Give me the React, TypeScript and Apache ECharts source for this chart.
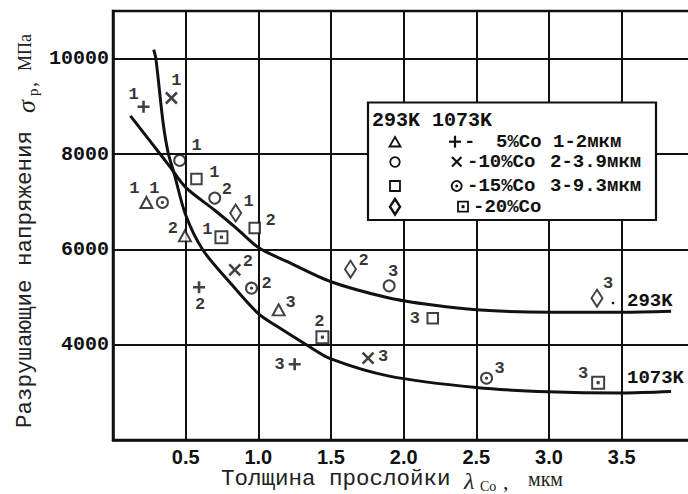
import React, { useEffect, useRef } from 'react';
import * as echarts from 'echarts';

// ---------------- data ----------------
const xTickLabels = ['0.5', '1.0', '1.5', '2.0', '2.5', '3.0', '3.5'];
const yTickLabels = ['4000', '6000', '8000', '10000'];

// [layer thickness (мкм), fracture stress (МПа), particle-size group]
const triangle293K = [[0.23, 6983, '1'], [0.495, 6283, '2'], [1.14, 4730, '3']];
const circle293K = [[0.459, 7865, '1'], [0.7, 7075, '2'], [1.9, 5234, '3']];
const square293K = [[0.574, 7474, '1'], [0.975, 6445, '2'], [2.2, 4556, '3']];
const diamond293K = [[0.844, 6760, '1'], [1.634, 5584, '2'], [3.33, 4975, '3']];
const plus1073K = [[0.21, 8992, '1'], [0.592, 5206, '2'], [1.25, 3590, '3']];
const cross1073K = [[0.402, 9175, '1'], [0.838, 5570, '2'], [1.755, 3716, '3']];
const dotCircle1073K = [[0.34, 6983, '1'], [0.953, 5185, '2'], [2.57, 3296, '3']];
const dotSquare1073K = [[0.746, 6255, '1'], [1.441, 4157, '2'], [3.338, 3203, '3']];

const curve293K = [
  [0.12, 8800], [0.25, 8290], [0.39, 7740], [0.5, 7300], [0.7, 6820], [0.85, 6440],
  [1.0, 6040], [1.2, 5740], [1.5, 5320], [1.9, 4980], [2.2, 4830], [2.5, 4730],
  [3.0, 4680], [3.5, 4680], [3.84, 4700],
];
const curve1073K = [
  [0.28, 10190], [0.295, 10000], [0.345, 8650], [0.38, 8020], [0.42, 7600], [0.5, 6720],
  [0.62, 5980], [0.82, 5250], [1.0, 4650], [1.12, 4400], [1.33, 4000], [1.5, 3700],
  [1.9, 3340], [2.5, 3100], [3.0, 3010], [3.5, 2985], [3.84, 3015],
];

const curveNames = ['293K', '1073K'];
const legendHeader = '293K 1073K';
const legendCompositions = ['- 5%Co', '-10%Co', '-15%Co', '-20%Co'];
const legendSizes = ['1-2мкм', '2-3.9мкм', '3-9.3мкм'];
const xTitle = ['Толщина прослойки', 'λ', 'Co', ',', 'мкм'];
const yTitle = ['Разрушающие напряжения', 'σ', 'р', ',', 'МПа'];

// ---------------- styling ----------------
const INK = '#111';
const F_MONO = '"Liberation Mono", "DejaVu Sans Mono", monospace';
const F_SERIF = '"Liberation Serif", "DejaVu Serif", serif';
const F_SANS = '"Liberation Sans", Arial, sans-serif';

// label offsets (px) of the size-group digit next to each marker
const LABEL_OFFSETS: Record<string, number[][]> = {
  triangle293K: [[-12, -14], [-12, -7], [12, -7]],
  circle293K: [[17, -15], [12, -9], [4, -14]],
  square293K: [[18, -7], [16, -8], [-18, 0]],
  diamond293K: [[13, -12], [13, -9], [11, -15]],
  plus1073K: [[-10, -12], [1, 17], [-15, 0]],
  cross1073K: [[5, -17], [13, -8], [15, -2]],
  dotCircle1073K: [[-8, -14], [15, -5], [13, -10]],
  dotSquare1073K: [[-14, -8], [-3, -16], [-15, -9]],
};

function markerSeries(key: string, data: any[], symbol: string, size: any, hollow: boolean) {
  const offs = LABEL_OFFSETS[key];
  return {
    type: 'scatter',
    name: key,
    silent: true,
    z: 4,
    symbol,
    symbolSize: size,
    itemStyle: hollow
      ? { color: '#fff', borderColor: INK, borderWidth: 2 }
      : { color: 'none', borderColor: INK, borderWidth: 2.6 },
    label: {
      show: true,
      position: 'inside',
      formatter: (p: any) => String(p.value[2]),
      fontFamily: F_MONO,
      fontWeight: 'bold',
      fontSize: 17,
      color: '#000',
      textBorderWidth: 0,
      align: 'center',
      verticalAlign: 'middle',
    },
    data: data.map((d, i) => ({ value: d, label: { offset: offs[i] } })),
  };
}

function dotSeries(data: any[], symbol: string) {
  return {
    type: 'scatter',
    silent: true,
    z: 5,
    symbol,
    symbolSize: 3.2,
    itemStyle: { color: INK },
    label: { show: false },
    data: data.map((d) => [d[0], d[1]]),
  };
}

function curveSeries(data: number[][]) {
  return {
    type: 'line',
    silent: true,
    z: 3,
    data,
    smooth: 0.3,
    showSymbol: false,
    symbol: 'none',
    lineStyle: { color: INK, width: 3 },
  };
}

function t(text: string, x: number, y: number, size: number, extra: any = {}) {
  return {
    type: 'text',
    x,
    y,
    z: 101,
    silent: true,
    style: {
      text,
      fontSize: size,
      fontFamily: F_MONO,
      fontWeight: 'bold',
      fill: INK,
      align: 'left',
      verticalAlign: 'middle',
      lineHeight: Math.round(size * 0.9),
      ...extra,
    },
  };
}

const ln = (x1: number, y1: number, x2: number, y2: number) => ({
  type: 'line',
  z: 101,
  silent: true,
  shape: { x1, y1, x2, y2 },
  style: { stroke: INK, lineWidth: 2.2 },
});

function buildGraphic() {
  const hollow = { fill: '#fff', stroke: INK, lineWidth: 1.8 };
  const LS = 19;
  const legend: any[] = [
    { type: 'rect', z: 100, silent: true, shape: { x: 368, y: 102.5, width: 288, height: 117.5 }, style: { fill: '#fff', stroke: INK, lineWidth: 2.2 } },
    t(legendHeader, 372, 120, 20),
    // 293K markers
    { type: 'polygon', z: 101, silent: true, shape: { points: [[395, 137], [400.5, 146.5], [389.5, 146.5]] }, style: hollow },
    { type: 'circle', z: 101, silent: true, shape: { cx: 395, cy: 162, r: 4.8 }, style: hollow },
    { type: 'rect', z: 101, silent: true, shape: { x: 390, y: 181, width: 10, height: 10 }, style: hollow },
    { type: 'polygon', z: 101, silent: true, shape: { points: [[395, 199], [400, 206.7], [395, 214.5], [390, 206.7]] }, style: { ...hollow, lineWidth: 2.4 } },
    // 1073K markers
    ln(449, 141.7, 461, 141.7), ln(455, 135.7, 455, 147.7),
    ln(452, 157, 461.5, 166.5), ln(461.5, 157, 452, 166.5),
    { type: 'circle', z: 101, silent: true, shape: { cx: 456.7, cy: 186, r: 5 }, style: hollow },
    { type: 'circle', z: 102, silent: true, shape: { cx: 456.7, cy: 186, r: 1.4 }, style: { fill: INK } },
    { type: 'rect', z: 101, silent: true, shape: { x: 458, y: 201.7, width: 10, height: 10 }, style: hollow },
    { type: 'rect', z: 102, silent: true, shape: { x: 461.5, y: 205.2, width: 3, height: 3 }, style: { fill: INK } },
    // texts
    t(legendCompositions[0].slice(0, 1), 464, 142, LS),
    t(legendCompositions[0].slice(2), 496, 142, LS),
    t(legendCompositions[1], 467, 162, LS),
    t(legendCompositions[2], 467, 186, LS),
    t(legendCompositions[3], 473, 207, LS),
    t(legendSizes[0], 553, 142, LS),
    t(legendSizes[1], 550, 162, LS),
    t(legendSizes[2], 550, 186, LS),
  ];

  const curveLabels: any[] = [
    t(curveNames[0], 627, 301, 19),
    t(curveNames[1], 627, 378, 19),
    { type: 'circle', z: 101, silent: true, shape: { cx: 613, cy: 303, r: 1.3 }, style: { fill: INK } },
  ];

  const titleStyle = { fontWeight: 'normal', fill: '#222' };
  const xTitleEls: any[] = [
    t(xTitle[0], 221, 479, 22.5, titleStyle),
    t(xTitle[1], 464, 481, 24, { ...titleStyle, fontFamily: F_SERIF, fontStyle: 'italic', lineHeight: 20 }),
    t(xTitle[2], 480, 486, 14, { ...titleStyle, fontFamily: F_SERIF }),
    t(xTitle[3], 503, 481, 22, { ...titleStyle, fontFamily: F_SERIF }),
    t(xTitle[4], 528, 479, 20, { ...titleStyle, fontFamily: F_SERIF }),
  ];

  const yTitleGroup = {
    type: 'group',
    x: 25,
    y: 428,
    rotation: Math.PI / 2,
    silent: true,
    children: [
      t(yTitle[0], 0, 0, 22.5, titleStyle),
      t(yTitle[1], 315, 1, 26, { ...titleStyle, fontFamily: F_SERIF, fontStyle: 'italic' }),
      t(yTitle[2], 332, 8, 15, { ...titleStyle, fontFamily: F_SERIF }),
      t(yTitle[3], 341, 4, 20, { ...titleStyle, fontFamily: F_SERIF }),
      t(yTitle[4], 357, 0, 18, { ...titleStyle, fontFamily: F_SERIF }),
    ],
  };

  return [...legend, ...curveLabels, ...xTitleEls, yTitleGroup];
}

export default function App() {
  const ref = useRef<HTMLDivElement>(null);
  useEffect(() => {
    if (!ref.current) return;
    const chart = echarts.init(ref.current, null, { renderer: 'svg' });
    const axisLine = { show: true, lineStyle: { color: INK, width: 2.5 } };
    const split = { show: true, lineStyle: { color: INK, width: 2 } };
    chart.setOption({
      animation: false,
      backgroundColor: '#fff',
      grid: {
        left: 113, right: -2, top: 11, bottom: 54,
        show: true, borderColor: INK, borderWidth: 2.5,
        containLabel: false, outerBoundsMode: 'none',
      },
      xAxis: {
        type: 'value', min: 0, max: 3.97, interval: 0.5,
        axisLine, axisTick: { show: false }, splitLine: split,
        axisLabel: {
          formatter: (v: number) => (xTickLabels.includes(v.toFixed(1)) ? v.toFixed(1) : ''),
          fontFamily: F_SANS, fontWeight: 'bold', fontSize: 20, color: INK, margin: 7,
        },
      },
      yAxis: {
        type: 'value', min: 2000, max: 11000, interval: 2000,
        axisLine, axisTick: { show: false }, splitLine: split,
        axisLabel: {
          formatter: (v: number) => (yTickLabels.includes(String(v)) ? String(v) : ''),
          fontFamily: F_MONO, fontWeight: 'bold', fontSize: 20, color: INK, margin: 4,
        },
      },
      series: [
        curveSeries(curve293K),
        curveSeries(curve1073K),
        markerSeries('triangle293K', triangle293K, 'triangle', [12, 11], true),
        markerSeries('circle293K', circle293K, 'circle', 11, true),
        markerSeries('square293K', square293K, 'rect', 10.5, true),
        markerSeries('diamond293K', diamond293K, 'diamond', [11, 17], true),
        markerSeries('plus1073K', plus1073K, 'path://M0,5L10,5M5,0L5,10', 12, false),
        markerSeries('cross1073K', cross1073K, 'path://M0,0L10,10M10,0L0,10', 11, false),
        markerSeries('dotCircle1073K', dotCircle1073K, 'circle', 11, true),
        dotSeries(dotCircle1073K, 'circle'),
        markerSeries('dotSquare1073K', dotSquare1073K, 'rect', 12, true),
        dotSeries(dotSquare1073K, 'rect'),
      ],
      graphic: buildGraphic(),
    });
    return () => chart.dispose();
  }, []);
  return <div ref={ref} style={{ position: 'fixed', left: 0, top: 0, width: 688, height: 494 }} />;
}
